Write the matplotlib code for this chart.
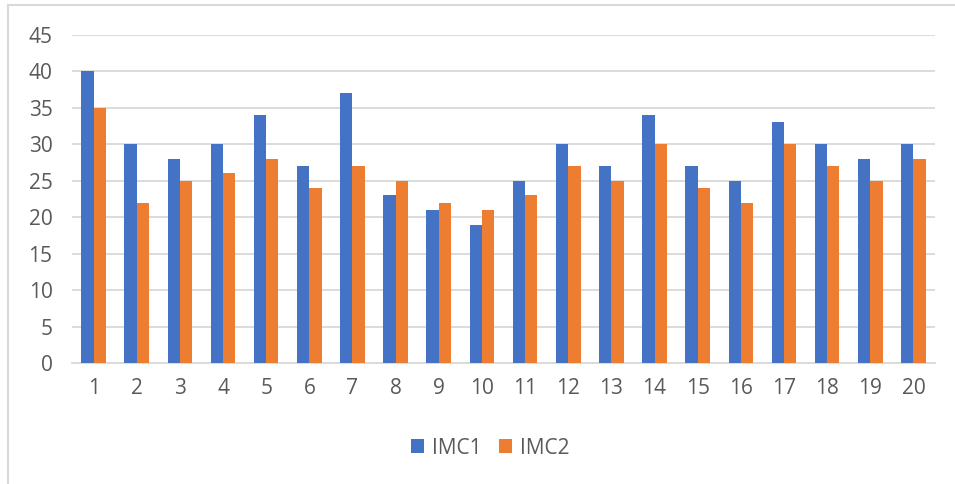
import matplotlib.pyplot as plt
import numpy as np
from matplotlib.patches import Rectangle

plt.rcParams['font.family'] = ['Open Sans', 'DejaVu Sans']

categories = [str(i) for i in range(1, 21)]
imc1 = [40, 30, 28, 30, 34, 27, 37, 23, 21, 19, 25, 30, 27, 34, 27, 25, 33, 30, 28, 30]
imc2 = [35, 22, 25, 26, 28, 24, 27, 25, 22, 21, 23, 27, 25, 30, 24, 22, 30, 27, 25, 28]
y_ticks = list(range(0, 50, 5))

blue = '#4472C4'
orange = '#ED7D31'
text_col = '#595959'
grid_col = '#D9D9D9'

W, H = 955, 484
fig = plt.figure(figsize=(W / 100, H / 100), dpi=100)

# outer chart frame (left and top edges visible)
fig.patches.append(Rectangle((8 / W, -0.1), 1.2, (H - 5) / H + 0.1,
                             transform=fig.transFigure, fill=False,
                             edgecolor=grid_col, linewidth=1.5))

ax = fig.add_axes([72 / W, (H - 363) / H, (935 - 72) / W, (363 - 35) / H])

x = np.arange(len(categories))
bw = 0.285
ax.bar(x - bw / 2, imc1, bw, color=blue, label='IMC1', zorder=3)
ax.bar(x + bw / 2, imc2, bw, color=orange, label='IMC2', zorder=3)

ax.set_xlim(-0.5, len(categories) - 0.5)
ax.set_ylim(0, 45)
ax.set_yticks(y_ticks)
ax.set_xticks(x)
ax.set_xticklabels(categories)
ax.yaxis.grid(True, color=grid_col, linewidth=1.3, zorder=0)
for s in ['top', 'right', 'left']:
    ax.spines[s].set_visible(False)
ax.spines['bottom'].set_color(grid_col)
ax.spines['bottom'].set_linewidth(1.3)
ax.tick_params(axis='both', length=0, labelsize=15, colors=text_col)
ax.tick_params(axis='x', pad=11)
ax.tick_params(axis='y', pad=14)

fig.legend(loc='center', bbox_to_anchor=(490 / W, (H - 448) / H), ncol=2,
           frameon=False, fontsize=15, labelcolor=text_col,
           handlelength=0.65, handleheight=0.65, handletextpad=0.35,
           columnspacing=0.85)

fig.savefig('out.png', dpi=100)
